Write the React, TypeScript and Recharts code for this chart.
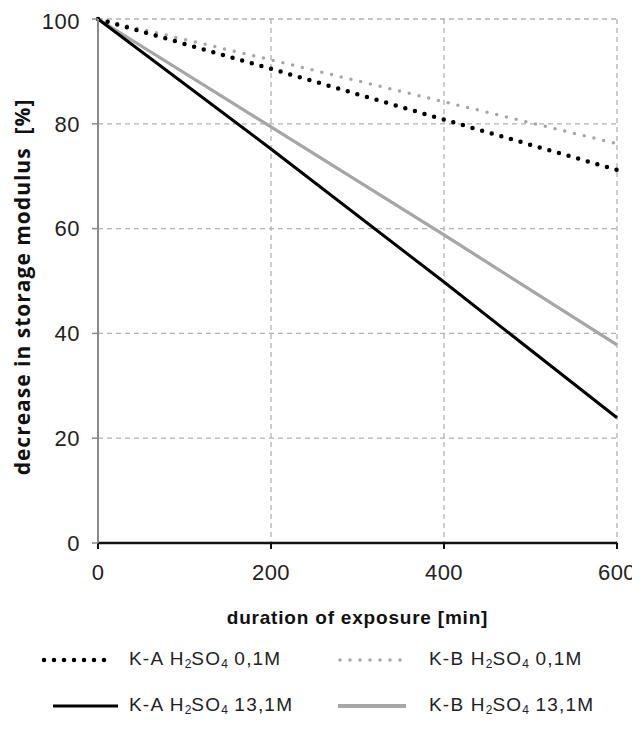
import { LineChart, Line, XAxis, YAxis, CartesianGrid, Label } from 'recharts';

const minutes = [0, 200, 400, 600];
const kaDilute = [100, 90.5, 80.8, 71.2];
const kbDilute = [100, 92.2, 84.2, 76.2];
const kaConc = [100, 75.2, 49.8, 23.9];
const kbConc = [100, 79.4, 58.8, 37.8];

const xTicks = [0, 200, 400, 600];
const yTicks = [0, 20, 40, 60, 80, 100];

const data = minutes.map((m, i) => ({
    t: m,
    kaDilute: kaDilute[i],
    kbDilute: kbDilute[i],
    kaConc: kaConc[i],
    kbConc: kbConc[i],
}));

const font = '"Liberation Sans", Arial, sans-serif';
const GRAY = '#a6a6a6';

const YTitle = ({ viewBox }: any) => {
    const cy = viewBox.y + viewBox.height / 2 + 6;
    return (
        <text x={14} y={cy} transform={`rotate(-90, 14, ${cy})`} textAnchor="middle" letterSpacing={1}
            dominantBaseline="central" fontFamily='"Open Sans", sans-serif' fontWeight="bold" fontSize={21} fill="#111"
            style={{ whiteSpace: 'pre' }}>
            {'decrease in storage modulus  [%]'}
        </text>
    );
};

const XTitle = ({ viewBox }: any) => {
    const cx = viewBox.x + viewBox.width / 2;
    return (
        <text x={cx} y={609} textAnchor="middle" dominantBaseline="central" letterSpacing={0.8}
            fontFamily={font} fontWeight="bold" fontSize={19} fill="#111">
            duration of exposure [min]
        </text>
    );
};

function LegendItem({ left, top, color, width, dotted, from, to, label, value }: any) {
    const sub = { fontSize: 12, verticalAlign: -3, letterSpacing: 0 };
    return (
        <div style={{ position: 'absolute', left, top, height: 0 }}>
            <svg width={to} height={12} style={{ position: 'absolute', left: 0, top: -6 }}>
                <line x1={from} y1={6} x2={to - 2} y2={6} stroke={color} strokeWidth={width}
                    strokeDasharray={dotted ? '0 10' : undefined} strokeLinecap={dotted ? 'round' : 'butt'} />
            </svg>
            <span style={{ position: 'absolute', left: 121, top: -12, whiteSpace: 'nowrap', fontSize: 19, letterSpacing: 1.2, color: '#222', lineHeight: '22px' }}>
                {label} H<sub style={sub}>2</sub>SO<sub style={sub}>4</sub> {value}
            </span>
        </div>
    );
}

export default function App() {
    return (
        <div style={{ position: 'relative', width: 632, height: 713, fontFamily: font }}>
            <LineChart width={632} height={625} data={data} margin={{ top: 11, right: 23, left: 0, bottom: 0 }}>
                <CartesianGrid stroke="#b3b3b3" strokeDasharray="5 4" strokeWidth={1.3} />
                <XAxis dataKey="t" type="number" domain={[0, 600]} ticks={xTicks} height={90}
                    axisLine={{ stroke: '#111', strokeWidth: 2.5 }} tickLine={{ stroke: '#111', strokeWidth: 2 }}
                    tickSize={6} tickMargin={15} tick={{ fill: '#222', fontSize: 22, fontFamily: font, letterSpacing: 0.5 }}>
                    <Label content={XTitle} />
                </XAxis>
                <YAxis type="number" domain={[0, 100]} ticks={yTicks} width={90}
                    axisLine={{ stroke: '#8a8a8a', strokeWidth: 2 }} tickLine={{ stroke: '#8a8a8a', strokeWidth: 1.5 }}
                    tickSize={6} tickMargin={12} tick={{ fill: '#222', fontSize: 22, fontFamily: font, letterSpacing: 0.5 }}>
                    <Label content={YTitle} />
                </YAxis>
                <Line dataKey="kbConc" stroke={GRAY} strokeWidth={3.2} dot={false} isAnimationActive={false} />
                <Line dataKey="kaConc" stroke="#000" strokeWidth={3} dot={false} isAnimationActive={false} />
                <Line dataKey="kbDilute" stroke={GRAY} strokeWidth={3.5} strokeDasharray="0 10" strokeLinecap="round"
                    dot={false} isAnimationActive={false} />
                <Line dataKey="kaDilute" stroke="#000" strokeWidth={4.5} strokeDasharray="0 10" strokeLinecap="round"
                    dot={false} isAnimationActive={false} />
            </LineChart>
            <LegendItem left={0} top={652} color="#000" width={4.5} dotted from={36} to={106}
                label="K-A" value="0,1M" />
            <LegendItem left={300} top={652} color={GRAY} width={3.5} dotted from={32} to={102}
                label="K-B" value="0,1M" />
            <LegendItem left={0} top={698} color="#000" width={3} dotted={false} from={45} to={112}
                label="K-A" value="13,1M" />
            <LegendItem left={300} top={698} color={GRAY} width={4} dotted={false} from={30} to={100}
                label="K-B" value="13,1M" />
        </div>
    );
}
